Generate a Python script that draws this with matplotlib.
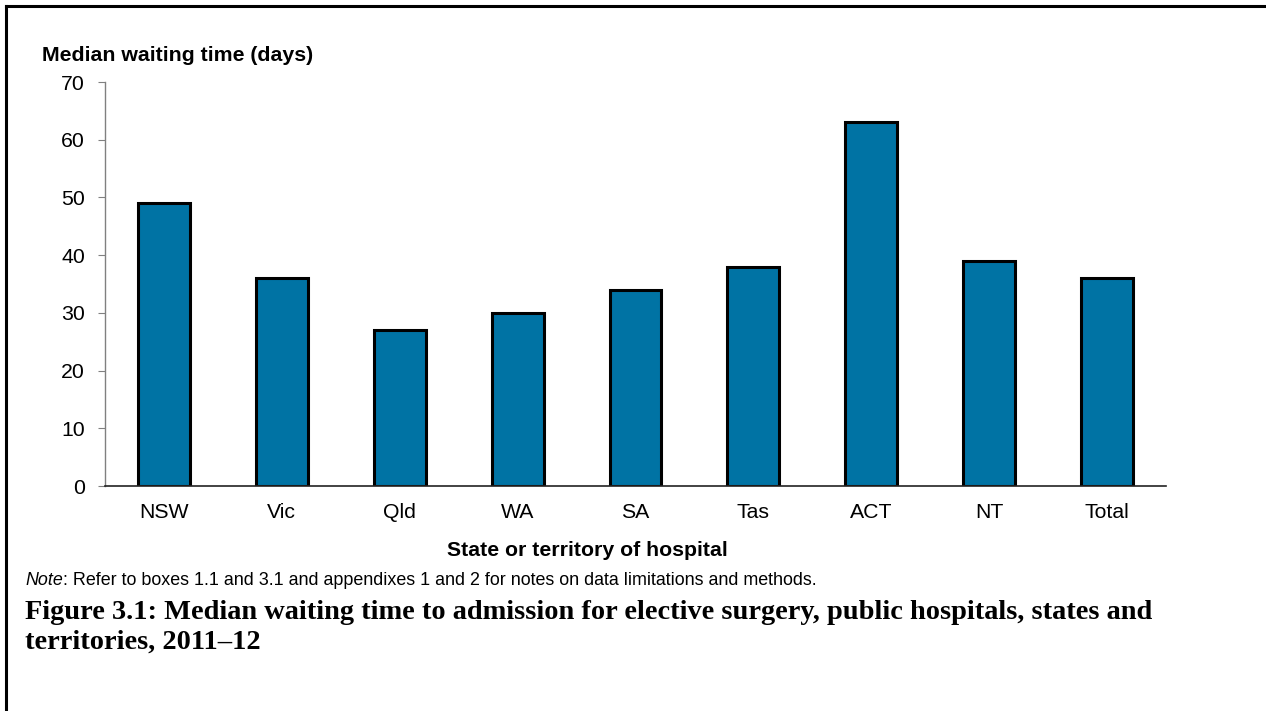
import matplotlib.pyplot as plt
from matplotlib.lines import Line2D
import numpy as np

# Median waiting time by state/territory
states = ['NSW', 'Vic', 'Qld', 'WA', 'SA', 'Tas', 'ACT', 'NT', 'Total']
median_days = [49, 36, 27, 30, 34, 38, 63, 39, 36]
y_ticks = [0, 10, 20, 30, 40, 50, 60, 70]

plt.rcParams['font.family'] = ['Liberation Sans', 'DejaVu Sans']

W, H = 1266, 711
fig = plt.figure(figsize=(W / 100, H / 100), dpi=100)
ax = fig.add_axes([105 / W, 1 - 486 / H, 1061 / W, 404 / H])

x = np.arange(len(states))
ax.bar(x, median_days, width=0.44, color='#0073a4', edgecolor='black', linewidth=2.2)

ax.set_xlim(-0.5, len(states) - 0.5)
ax.set_ylim(0, 70)
ax.set_yticks(y_ticks)
ax.set_xticks(x)
ax.set_xticklabels(states)
ax.tick_params(axis='y', labelsize=15.3, length=5, color='#808080', pad=9.4)
ax.tick_params(axis='x', labelsize=15.3, length=0, pad=12)

ax.spines['top'].set_visible(False)
ax.spines['right'].set_visible(False)
ax.spines['left'].set_color('#808080')
ax.spines['left'].set_linewidth(1.0)
ax.spines['bottom'].set_color('#222222')
ax.spines['bottom'].set_linewidth(1.2)

# axis titles
fig.text(447 / W, 1 - 556 / H, 'State or territory of hospital', fontsize=15.3,
         fontweight='bold', ha='left', va='baseline')
fig.text(42 / W, 1 - 61 / H, 'Median waiting time (days)', fontsize=15.3,
         fontweight='bold', ha='left', va='baseline')

# note line
note = fig.text(25 / W, 1 - 585 / H, 'Note', fontsize=12.9, style='italic', ha='left', va='baseline')
fig.canvas.draw()
bb = note.get_window_extent()
fig.text(bb.x1 / W, 1 - 585 / H,
         ': Refer to boxes 1.1 and 3.1 and appendixes 1 and 2 for notes on data limitations and methods.',
         fontsize=12.9, ha='left', va='baseline')

# figure caption
fig.text(25 / W, 1 - 619 / H,
         'Figure 3.1: Median waiting time to admission for elective surgery, public hospitals, states and',
         fontsize=20.4, fontweight='bold', family='Liberation Serif', ha='left', va='baseline')
fig.text(25 / W, 1 - 649 / H, 'territories, 2011\u201312',
         fontsize=20.4, fontweight='bold', family='Liberation Serif', ha='left', va='baseline')

# page border (top and left)
fig.add_artist(Line2D([6 / W, 1], [1 - 6 / H, 1 - 6 / H], color='black', linewidth=2.2))
fig.add_artist(Line2D([6 / W, 6 / W], [0, 1 - 6 / H], color='black', linewidth=2.2))

fig.savefig('out.png', dpi=100)
